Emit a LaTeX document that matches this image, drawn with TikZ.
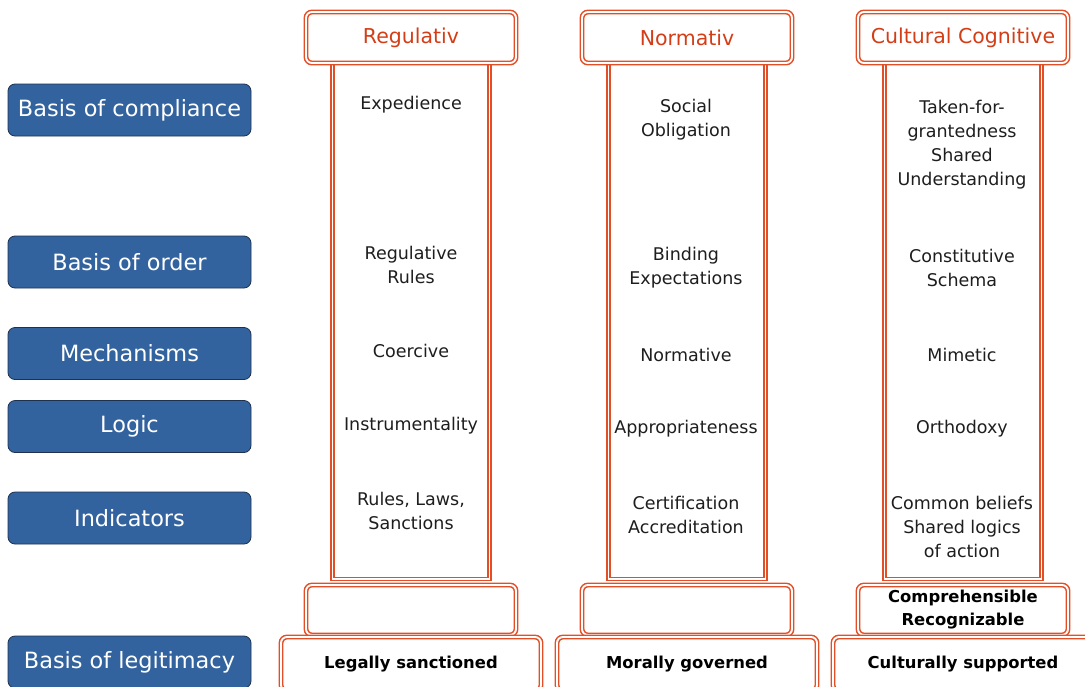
\documentclass[tikz,border=0pt]{standalone}
\usepackage{fontspec}
\setmainfont{DejaVu Sans}
\usetikzlibrary{shadows}
\definecolor{brick}{RGB}{226,78,38}
\definecolor{brickink}{RGB}{212,62,22}
\definecolor{steel}{RGB}{50,99,158}
\definecolor{steeledge}{RGB}{30,50,80}
\definecolor{ink}{RGB}{30,30,30}

\begin{document}
\begin{tikzpicture}[x=1pt,y=-1pt,
  pillar/.style={draw=brick, double=white, line width=1.5pt, double distance=1.9pt, fill=white},
  ledge/.style={drop shadow={shadow xshift=0pt, shadow yshift=-1.6pt, fill=brickink, opacity=1}},
  shaft/.style={pillar, minimum width=157pt, minimum height=516pt},
  capital/.style={pillar, ledge, rounded corners=6pt, minimum width=210pt, minimum height=51pt, inner sep=0pt,
    text=brickink, font=\fontsize{20.5}{24}\selectfont},
  plinth/.style={pillar, ledge, rounded corners=6pt, minimum width=210pt, minimum height=50pt, inner sep=0pt,
    align=center, text=black, font=\bfseries\fontsize{16.4}{23}\selectfont},
  footing/.style={pillar, rounded corners=6pt, minimum width=260pt, minimum height=54pt, inner sep=0pt,
    text=black, font=\bfseries\fontsize{16.4}{23}\selectfont},
  button/.style={draw=steeledge, fill=steel, rounded corners=7pt, line width=0.8pt,
    minimum width=243pt, minimum height=52pt, text=white, font=\fontsize{22.4}{26}\selectfont},
  cell/.style={align=center, text=ink, inner sep=0pt, font=\fontsize{17.5}{24}\selectfont}]

  \useasboundingbox (0,0) rectangle (1085,686);
  \clip (0,0) rectangle (1085,686);

  % the three pillars
  \foreach \n/\x/\head/\base/\foot in {reg/411/Regulativ/{}/Legally sanctioned,
      nor/687/Normativ/{}/Morally governed,
      cul/963/Cultural Cognitive/{Comprehensible\\Recognizable}/Culturally supported}
  {
    \node[shaft] (\n-shaft) at (\x,321) {};
    \node[capital] (\n-head) at (\x,37.5) {\head};
    \node[plinth] (\n-base) at (\x,610) {\base};
    \node[footing] (\n-foot) at (\x,664) {\foot};
  }

  % row labels
  \foreach \n/\y/\txt in {compliance/110/Basis of compliance, order/262/Basis of order,
      mech/353.5/Mechanisms, logic/426.5/Logic, ind/518/Indicators, legit/662/Basis of legitimacy}
  {
    \node[button] (\n) at (129.5,\y) {\txt};
  }

  % contents of the pillars
  \foreach \n/\x/\y/\txt in {reg-compliance/411/105/Expedience,
      nor-compliance/686/120/{Social\\Obligation},
      cul-compliance/962/145/{Taken-for-\\grantedness\\Shared\\Understanding},
      reg-order/411/265/{Regulative\\Rules},
      nor-order/686/268/{Binding\\Expectations},
      cul-order/962/268/{Constitutive\\Schema},
      reg-mech/411/351/Coercive,
      nor-mech/686/355/Normative,
      cul-mech/962/355/Mimetic,
      reg-logic/411/426/Instrumentality,
      nor-logic/686/429/Appropriateness,
      cul-logic/962/429/Orthodoxy,
      reg-ind/411/511/{Rules, Laws,\\Sanctions},
      nor-ind/686/515/{Certification\\Accreditation},
      cul-ind/962/527/{Common beliefs\\Shared logics\\of action}}
  {
    \node[cell] (\n) at (\x,\y) {\txt};
  }
\end{tikzpicture}
\end{document}
